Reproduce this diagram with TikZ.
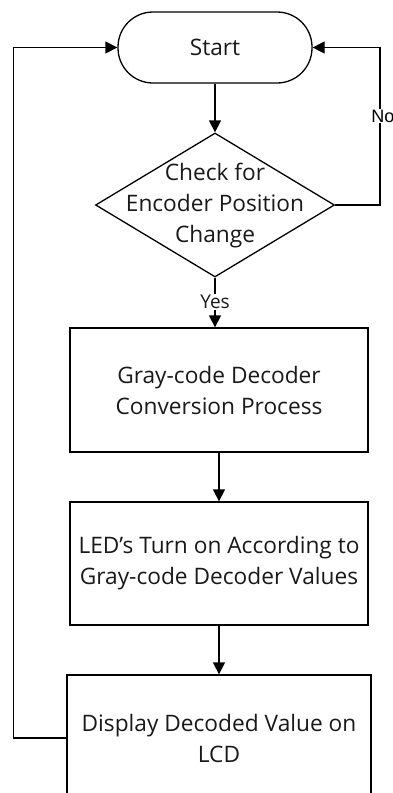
\documentclass[tikz,border=0pt]{standalone}
\usepackage{fontspec}
\setmainfont{Open Sans}
\newfontfamily\labelfont{Liberation Sans}
\usetikzlibrary{arrows.meta,shapes.geometric}

\begin{document}
\begin{tikzpicture}[x=1pt,y=-1pt,
  line width=1.3pt,
  flow/.style={-{Triangle[length=12pt,width=12pt]}},
  txt/.style={align=center,text=black!90,font=\fontsize{22.7}{31}\selectfont},
  procbox/.style={draw,rectangle,inner sep=0pt},
  terminal/.style={draw,rectangle,rounded corners=35pt,inner sep=0pt,
    minimum width=194pt,minimum height=71pt},
  decision/.style={draw,diamond,inner sep=0pt,
    minimum width=239pt,minimum height=144pt},
  yesno/.style={fill=white,inner sep=1pt}]

\path[use as bounding box,clip] (0,0) rectangle (393,793);

% shapes
\node[terminal,txt] (start) at (215,47.5) {Start};
\node[decision] (dec) at (215,205) {};
\node[txt] (dectxt) at (215,206) {Check for\\Encoder Position\\Change};
\node[procbox,minimum width=298pt,minimum height=124pt,txt] (b1) at (219,390)
  {Gray-code Decoder\\Conversion Process};
\node[procbox,minimum width=298pt,minimum height=123pt,txt] (b2) at (219,563.5)
  {LED’s Turn on According to\\Gray-code Decoder Values};
\node[procbox,minimum width=304pt,minimum height=126pt,txt] (b3) at (219,738)
  {Display Decoded Value on\\LCD};

% loop helpers
\coordinate (rc) at (380,205);
\coordinate (lc) at (13.5,738);

% connectors
\draw[flow] (start) -- (dec);
\draw[flow] (dec.south) -- (dec.south |- b1.north);
\draw[flow] (b1.south -| b2.north) -- (b2.north);
\draw[flow] (b2) -- (b3);
\draw[flow] (dec.east) -- (rc) |- (start.east);
\draw[flow] (b3.west) -- (lc) |- (start.west);

% branch labels
\node[yesno,txt,font=\fontsize{19}{22}\selectfont] (yes) at (215,302) {Yes};
\node[yesno,font=\labelfont\fontsize{18}{21}\selectfont] (no) at (383,116) {No};
\end{tikzpicture}
\end{document}
